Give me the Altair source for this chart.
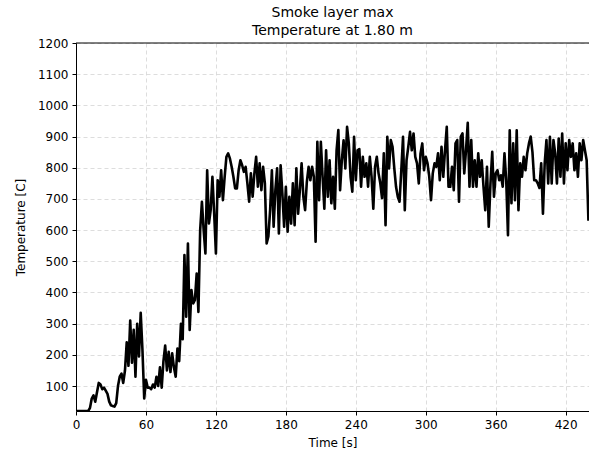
import altair as alt
import pandas as pd

# Sample spacing of the logged temperature series, in seconds
STEP_S = 1.5

# Smoke-layer maximum temperature [C], logged every STEP_S seconds from t = 0
temps_ignition = [
    20, 20, 20, 20, 20, 20, 20, 20,
    30, 60, 70, 50, 80, 110, 105, 90, 95, 85, 75, 50, 38, 36, 34, 45,
    100, 130, 140, 110, 150, 240, 165, 310, 175, 280, 130, 300, 195, 335,
    215, 60, 120, 95, 95, 90, 105, 95, 130, 100, 160, 95, 180, 230, 150,
    210, 145, 205, 160, 130, 220, 180, 300, 250,
]
temps_growth = [
    520, 322, 557, 280, 408, 365, 376, 461, 338, 600,
    691, 600, 525, 792, 621, 664, 771, 654, 525, 760,
    707, 792, 696, 771, 835, 846, 830, 803, 771, 734,
    734, 792, 824, 808, 787, 803, 750, 691, 782, 707,
    782, 835, 739, 814, 728, 803, 750, 557,
]
temps_plateau_1 = [
    580, 664, 792, 611, 728, 798, 589, 808, 718, 611,
    739, 595, 707, 621, 750, 616, 798, 653, 728, 814,
    707, 664, 755, 803, 760, 803, 771, 563, 883, 696,
    883, 771, 669, 856, 707, 824, 686, 771, 669, 856,
    921, 728, 824, 888, 798, 931, 878, 771, 723, 899,
    760, 856,
]
temps_plateau_2 = [
    860, 739, 835, 771, 814, 739, 835, 771, 669, 803,
    835, 782, 750, 702, 846, 616, 899, 798, 889, 867,
    798, 739, 707, 691, 792, 899, 664, 824, 867, 915,
    856, 910, 835, 814, 750, 846, 878, 792, 835, 814,
    771, 696, 782, 814, 803, 846, 760, 867, 771, 856,
    931, 739,
]
temps_plateau_3 = [
    739, 803, 728, 878, 889, 691, 899, 910, 782, 856,
    944, 739, 889, 739, 824, 739, 846, 771, 824, 739,
    664, 803, 611, 750, 851, 707, 782, 792, 760, 776,
    739, 846, 760, 584, 920, 686, 878, 696, 920, 664,
    814, 771, 835, 792, 846, 878, 900, 850, 760, 760,
    750,
]
temps_plateau_4 = [
    735, 814, 653, 814, 889, 750, 899, 750, 889, 846,
    750, 894, 771, 910, 750, 878, 792, 889, 835, 878,
    792, 846, 771, 878, 824, 889, 856, 824, 630,
]

temps = (temps_ignition + temps_growth + temps_plateau_1
         + temps_plateau_2 + temps_plateau_3 + temps_plateau_4)
times = [i * STEP_S for i in range(len(temps))]

x_ticks = [0, 60, 120, 180, 240, 300, 360, 420]
y_ticks = [100, 200, 300, 400, 500, 600, 700, 800, 900, 1000, 1100, 1200]

df = pd.DataFrame({"time": times, "temp": temps})

x_scale = alt.Scale(domain=[0, 440], nice=False, zero=False)
y_scale = alt.Scale(domain=[20, 1200], nice=False, zero=False)

y_axis = alt.Axis(values=y_ticks, title="Temperature [C]", grid=True,
                  format="d", labelFlush=False, labelOverlap=False)

line = alt.Chart(df).mark_line(
    color="black", strokeWidth=2.6, strokeJoin="round", clip=True
).encode(
    x=alt.X("time:Q", scale=x_scale,
            axis=alt.Axis(values=x_ticks, title="Time [s]", grid=True,
                          format="d", labelFlush=False, labelOverlap=False)),
    y=alt.Y("temp:Q", scale=y_scale, axis=y_axis),
)

# solid top spine of the plot frame, drawn over the dashed grid
top_spine = alt.Chart(pd.DataFrame({"temp": [1200]})).mark_rule(
    color="black", strokeWidth=1
).encode(y=alt.Y("temp:Q", scale=y_scale, axis=y_axis))

chart = alt.layer(line, top_spine).properties(
    width=513,
    height=368,
    padding={"left": 76, "top": 43, "right": 0, "bottom": 40},
    autosize=alt.AutoSizeParams(type="none"),
    title=alt.TitleParams(
        ["Smoke layer max", "Temperature at 1.80 m"],
        font="DejaVu Sans", fontSize=14, fontWeight="normal",
        color="black", anchor="middle", lineHeight=18, offset=-1,
    ),
).configure_view(
    stroke=None
).configure_axis(
    domainColor="black", domainWidth=1,
    tickColor="black", tickSize=4, tickWidth=1,
    labelFont="DejaVu Sans", labelFontSize=12, labelColor="black",
    labelPadding=4, labelOverlap=False,
    titleFont="DejaVu Sans", titleFontSize=12, titleFontWeight="normal",
    titleColor="black",
    gridColor="#d4d4d4", gridDash=[4, 3], gridWidth=0.8,
).configure_axisX(
    titlePadding=7
).configure_axisY(
    titlePadding=10
)

chart.save("out.html", embed_options={"renderer": "svg", "actions": False})
